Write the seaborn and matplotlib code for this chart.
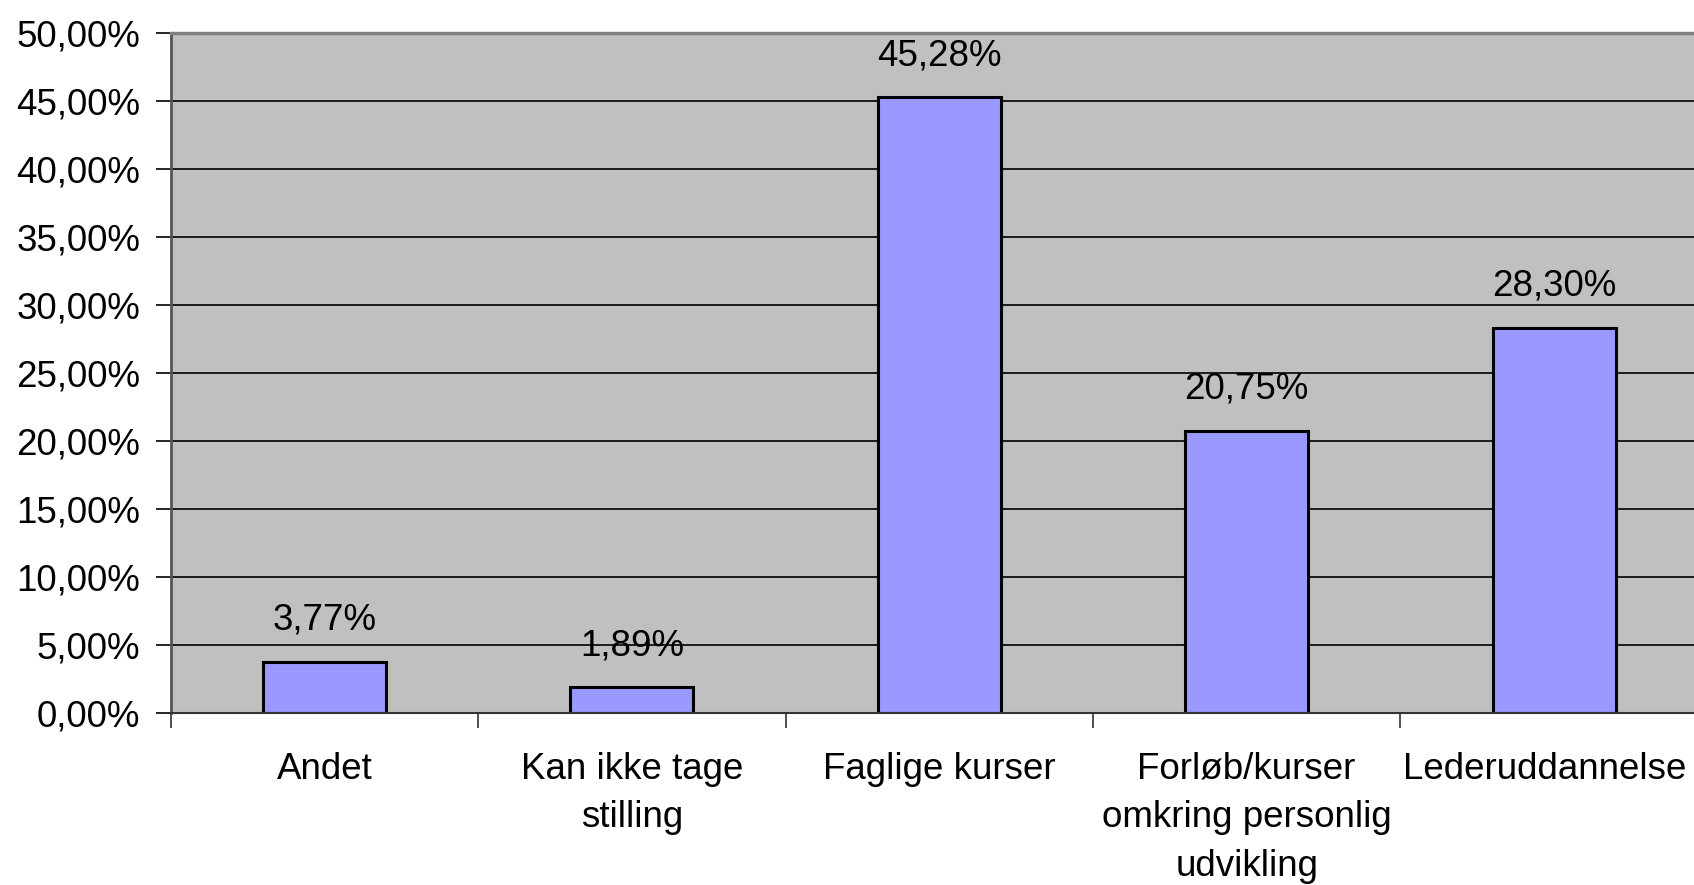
import matplotlib
matplotlib.use("Agg")
import matplotlib.pyplot as plt
import matplotlib.transforms as mtransforms
from matplotlib.ticker import FuncFormatter, FixedLocator
import seaborn as sns
import pandas as pd

categories = ["Andet", "Kan ikke tage\nstilling", "Faglige kurser",
              "Forløb/kurser\nomkring personlig\nudvikling", "Lederuddannelse"]
shares = [3.77, 1.89, 45.28, 20.75, 28.30]
y_ticks = [0, 5, 10, 15, 20, 25, 30, 35, 40, 45, 50]

df = pd.DataFrame({"kategori": categories, "andel": shares})

sns.set_style("white")
plt.rcParams["font.family"] = ["Liberation Sans", "DejaVu Sans"]
plt.rcParams["text.color"] = "black"
plt.rcParams["xtick.color"] = "black"
plt.rcParams["ytick.color"] = "black"

FS = 26.5

fig = plt.figure(figsize=(16.94, 8.85), dpi=100)
ax = fig.add_axes([0.1008, 0.1944, 0.9073, 0.7683])
ax.set_facecolor("#C0C0C0")

sns.barplot(data=df, x="kategori", y="andel", color="#9999FF", width=0.4,
            edgecolor="black", linewidth=2.2, saturation=1, ax=ax, zorder=3)

ax.set_xlim(-0.5, len(categories) - 0.5)
ax.set_ylim(0, 50)
ax.set_xlabel("")
ax.set_ylabel("")

# horizontal gridlines
for v in y_ticks[1:-1]:
    ax.axhline(v, color="black", lw=1.2, zorder=1)

def pct(v, pos=None):
    return f"{v:.2f}".replace(".", ",") + "%"

ax.yaxis.set_major_locator(FixedLocator(y_ticks))
ax.yaxis.set_major_formatter(FuncFormatter(pct))
ax.tick_params(axis="y", which="major", length=11, width=1.2, color="black",
               pad=11, labelsize=FS, left=True, labelcolor="black")

# category ticks sit on the boundaries, labels in the middle
ax.set_xticks([i - 0.5 for i in range(len(categories) + 1)])
ax.set_xticklabels([""] * (len(categories) + 1))
ax.set_xticks(range(len(categories)), minor=True)
labels = ax.set_xticklabels(categories, minor=True, linespacing=1.5)
ax.tick_params(axis="x", which="major", length=11, width=1.2, color="#333333",
               bottom=True)
ax.tick_params(axis="x", which="minor", length=0, pad=28, labelsize=FS,
               labelcolor="black")

# keep the last category label inside the figure edge
shift = mtransforms.ScaledTranslation(-9 / 100, 0, fig.dpi_scale_trans)
last = ax.xaxis.get_minor_ticks()[-1].label1
last.set_transform(last.get_transform() + shift)

for s in ["left", "bottom", "top", "right"]:
    ax.spines[s].set_zorder(4)
ax.spines["top"].set_color("#808080")
ax.spines["top"].set_linewidth(2.5)
ax.spines["left"].set_color("#555555")
ax.spines["left"].set_linewidth(2)
ax.spines["bottom"].set_color("#333333")
ax.spines["bottom"].set_linewidth(1.5)
ax.spines["right"].set_visible(False)

for i, v in enumerate(shares):
    ax.annotate(pct(v), (i, v), xytext=(0, 30), textcoords="offset points",
                ha="center", va="center", fontsize=FS, color="black", zorder=5)

fig.savefig("out.png", dpi=100)
